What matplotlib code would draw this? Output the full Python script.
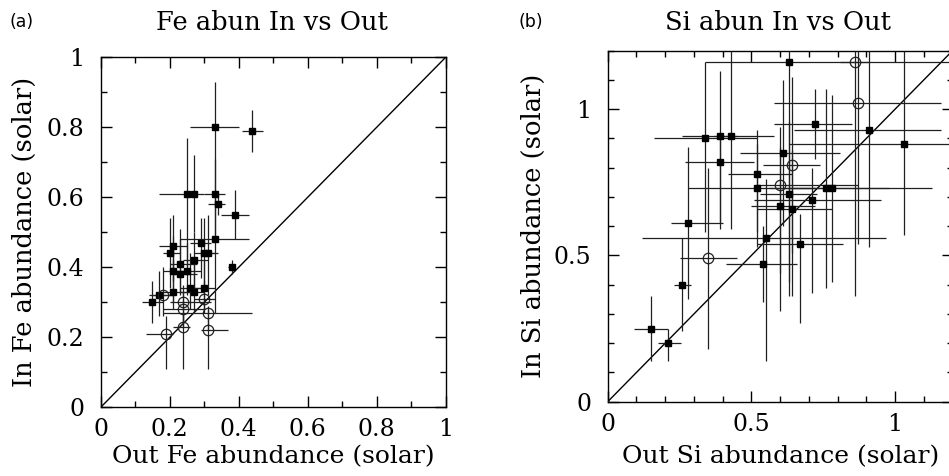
import matplotlib
matplotlib.use("Agg")
import matplotlib.pyplot as plt
from matplotlib.ticker import MultipleLocator, FixedFormatter, FixedLocator

# ---- panel (a): Fe, filled squares ----
fe_x = [0.33, 0.44, 0.25, 0.27, 0.33, 0.34, 0.39, 0.33, 0.29, 0.21, 0.20, 0.30, 0.31,
        0.27, 0.23, 0.21, 0.23, 0.25, 0.38, 0.21, 0.26, 0.27, 0.30, 0.17, 0.15]
fe_y = [0.80, 0.79, 0.61, 0.61, 0.61, 0.58, 0.55, 0.48, 0.47, 0.46, 0.44, 0.44, 0.44,
        0.42, 0.41, 0.39, 0.38, 0.39, 0.40, 0.33, 0.34, 0.33, 0.34, 0.32, 0.30]
fe_xlo = [0.07, 0.03, 0.08, 0.02, 0.03, 0.03, 0.04, 0.10, 0.03, 0.04, 0.02, 0.03, 0.02,
          0.03, 0.03, 0.03, 0.02, 0.04, 0.01, 0.04, 0.03, 0.04, 0.03, 0.03, 0.03]
fe_xhi = [0.07, 0.03, 0.03, 0.03, 0.03, 0.02, 0.04, 0.10, 0.03, 0.04, 0.03, 0.03, 0.03,
          0.04, 0.05, 0.04, 0.05, 0.04, 0.01, 0.05, 0.04, 0.03, 0.03, 0.03, 0.03]
fe_ylo = [0.19, 0.06, 0.21, 0.11, 0.13, 0.03, 0.07, 0.21, 0.10, 0.10, 0.10, 0.10, 0.12,
          0.08, 0.08, 0.09, 0.06, 0.07, 0.02, 0.05, 0.06, 0.06, 0.06, 0.06, 0.06]
fe_yhi = [0.13, 0.06, 0.16, 0.11, 0.10, 0.03, 0.07, 0.12, 0.07, 0.09, 0.10, 0.10, 0.11,
          0.08, 0.10, 0.10, 0.10, 0.08, 0.02, 0.09, 0.10, 0.08, 0.08, 0.07, 0.06]

# panel (a): open circles
fe_cx = [0.18, 0.24, 0.30, 0.24, 0.31, 0.24, 0.19, 0.31]
fe_cy = [0.32, 0.30, 0.31, 0.28, 0.27, 0.23, 0.21, 0.22]
fe_cxlo = [0.03, 0.04, 0.03, 0.06, 0.13, 0.03, 0.06, 0.02]
fe_cxhi = [0.03, 0.08, 0.03, 0.06, 0.13, 0.02, 0.02, 0.06]
fe_cylo = [0.06, 0.06, 0.04, 0.05, 0.05, 0.12, 0.10, 0.11]
fe_cyhi = [0.08, 0.05, 0.05, 0.05, 0.02, 0.04, 0.05, 0.06]

# ---- panel (b): Si, filled squares ----
si_x = [0.34, 0.39, 0.43, 0.39, 0.52, 0.52, 0.61, 0.63, 0.72, 0.91, 1.03, 0.60,
        0.64, 0.63, 0.71, 0.76, 0.78, 0.55, 0.67, 0.54, 0.28, 0.26, 0.15, 0.21]
si_y = [0.90, 0.91, 0.91, 0.82, 0.78, 0.73, 0.85, 1.16, 0.95, 0.93, 0.88, 0.67,
        0.66, 0.71, 0.69, 0.73, 0.73, 0.56, 0.54, 0.47, 0.61, 0.40, 0.25, 0.20]
si_xlo = [0.18, 0.13, 0.06, 0.12, 0.10, 0.24, 0.15, 0.29, 0.14, 0.26, 0.40, 0.10,
          0.12, 0.10, 0.20, 0.20, 0.15, 0.43, 0.15, 0.13, 0.06, 0.03, 0.06, 0.035]
si_xhi = [0.18, 0.06, 0.15, 0.12, 0.12, 0.20, 0.20, 0.60, 0.13, 0.25, 0.20, 0.12,
          0.14, 0.10, 0.24, 0.37, 0.20, 0.42, 0.15, 0.12, 0.12, 0.03, 0.06, 0.045]
si_ylo = [0.32, 0.30, 0.32, 0.23, 0.20, 0.20, 0.25, 0.80, 0.12, 0.40, 0.31, 0.36,
          0.30, 0.30, 0.32, 0.34, 0.32, 0.42, 0.27, 0.13, 0.26, 0.16, 0.11, 0.06]
si_yhi = [0.26, 0.22, 0.29, 0.10, 0.15, 0.15, 0.25, 0.04, 0.12, 0.27, 0.32, 0.20,
          0.20, 0.25, 0.11, 0.34, 0.32, 0.20, 0.10, 0.13, 0.26, 0.16, 0.11, 0.05]

# panel (b): open circles
si_cx = [0.35, 0.60, 0.64, 0.87, 0.86]
si_cy = [0.49, 0.74, 0.81, 1.02, 1.16]
si_cxlo = [0.10, 0.08, 0.10, 0.29, 0.05]
si_cxhi = [0.10, 0.27, 0.10, 0.29, 0.05]
si_cylo = [0.31, 0.30, 0.30, 0.48, 0.80]
si_cyhi = [0.31, 0.20, 0.30, 0.18, 0.04]

fe_ticks = ["0", "0.2", "0.4", "0.6", "0.8", "1"]
si_ticks = ["0", "0.5", "1"]

serif = "DejaVu Serif"
lab_size = 18.5

fig = plt.figure(figsize=(9.49, 4.76), dpi=100)
ax1 = fig.add_axes([0.1061, 0.1443, 0.3635, 0.7353])
ax2 = fig.add_axes([0.6404, 0.1561, 0.3633, 0.7374])


def draw(ax, x, y, xlo, xhi, ylo, yhi, cx, cy, cxlo, cxhi, cylo, cyhi):
    ax.errorbar(x, y, xerr=[xlo, xhi], yerr=[ylo, yhi], fmt="s", ms=4.5,
                mfc="black", mec="black", ecolor="#202020", elinewidth=0.9,
                capsize=0, zorder=3)
    ax.errorbar(cx, cy, xerr=[cxlo, cxhi], yerr=[cylo, cyhi], fmt="o", ms=7.5,
                mfc="none", mec="#202020", mew=0.9, ecolor="#202020",
                elinewidth=0.9, capsize=0, zorder=3)
    ax.axline((0, 0), slope=1, color="black", lw=1.0, zorder=2)
    for s in ax.spines.values():
        s.set_linewidth(1.0)
    ax.tick_params(which="both", direction="in", top=True, right=True,
                   width=1.0, labelsize=17)
    ax.tick_params(which="major", length=8)
    ax.tick_params(axis="x", which="major", pad=8)
    ax.tick_params(axis="y", which="major", pad=12)
    ax.tick_params(which="minor", length=4.3)
    for lab in ax.get_xticklabels() + ax.get_yticklabels():
        lab.set_family(serif)


# panel (a)
ax1.set_xlim(0, 1)
ax1.set_ylim(0, 1)
ax1.xaxis.set_major_locator(FixedLocator([0, 0.2, 0.4, 0.6, 0.8, 1.0]))
ax1.yaxis.set_major_locator(FixedLocator([0, 0.2, 0.4, 0.6, 0.8, 1.0]))
ax1.xaxis.set_major_formatter(FixedFormatter(fe_ticks))
ax1.yaxis.set_major_formatter(FixedFormatter(fe_ticks))
ax1.xaxis.set_minor_locator(MultipleLocator(0.1))
ax1.yaxis.set_minor_locator(MultipleLocator(0.1))
draw(ax1, fe_x, fe_y, fe_xlo, fe_xhi, fe_ylo, fe_yhi,
     fe_cx, fe_cy, fe_cxlo, fe_cxhi, fe_cylo, fe_cyhi)
ax1.set_xlabel("Out Fe abundance (solar)", family=serif, fontsize=18)
ax1.set_ylabel("In Fe abundance (solar)", family=serif, fontsize=lab_size)
ax1.xaxis.set_label_coords(0.5, -0.108)
ax1.yaxis.set_label_coords(-0.185, 0.5)

# panel (b)
ax2.set_xlim(0, 1.2)
ax2.set_ylim(0, 1.2)
ax2.xaxis.set_major_locator(FixedLocator([0, 0.5, 1.0]))
ax2.yaxis.set_major_locator(FixedLocator([0, 0.5, 1.0]))
ax2.xaxis.set_major_formatter(FixedFormatter(si_ticks))
ax2.yaxis.set_major_formatter(FixedFormatter(si_ticks))
ax2.xaxis.set_minor_locator(MultipleLocator(0.1))
ax2.yaxis.set_minor_locator(MultipleLocator(0.1))
draw(ax2, si_x, si_y, si_xlo, si_xhi, si_ylo, si_yhi,
     si_cx, si_cy, si_cxlo, si_cxhi, si_cylo, si_cyhi)
ax2.set_xlabel("Out Si abundance (solar)", family=serif, fontsize=18)
ax2.set_ylabel("In Si abundance (solar)", family=serif, fontsize=lab_size)
ax2.xaxis.set_label_coords(0.5, -0.123)
ax2.yaxis.set_label_coords(-0.179, 0.5)

# titles and panel letters
fig.text(0.2866, 0.953, "Fe abun In vs Out", family=serif, fontsize=lab_size,
         ha="center", va="center")
fig.text(0.8198, 0.953, "Si abun In vs Out", family=serif, fontsize=lab_size,
         ha="center", va="center")
fig.text(0.0095, 0.953, "(a)", fontsize=12.5, ha="left", va="center")
fig.text(0.546, 0.953, "(b)", fontsize=12.5, ha="left", va="center")

fig.savefig("out.png", dpi=100)
